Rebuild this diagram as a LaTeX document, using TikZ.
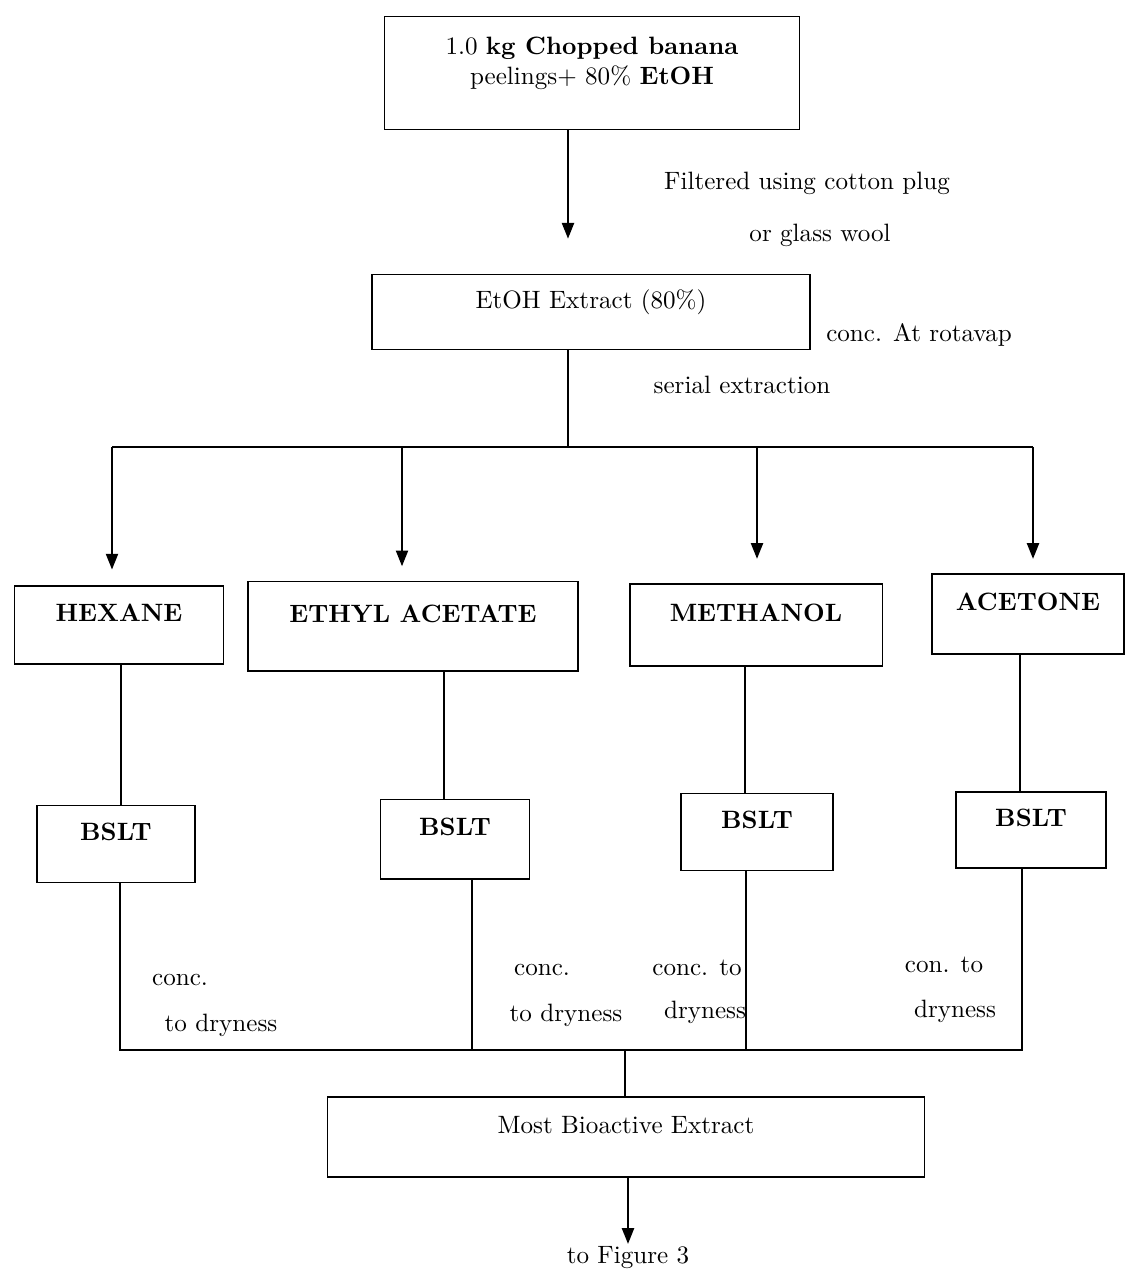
\documentclass[tikz,border=0pt]{standalone}
\usepackage{tikz}
\usetikzlibrary{arrows.meta,positioning,calc}

\begin{document}
\begin{tikzpicture}[
    x=0.014cm, y=-0.014cm,
    box/.style={rectangle, draw, line width=0.7pt, align=center, inner sep=2pt, text depth=0.35cm},
    solvent/.style={box, font=\bfseries},
    note/.style={font=\normalsize, inner sep=1pt},
    arrow/.style={-{Triangle[length=2.2mm,width=1.7mm]}, line width=0.7pt},
    link/.style={line width=0.7pt}
]
    \useasboundingbox (0,0) rectangle (1125,1272);

    % Main boxes
    \node[box, minimum width=5.81cm, minimum height=1.58cm] (banana) at (592,73) {
        1.0 \textbf{kg Chopped banana}\\
        peelings+ 80\% \textbf{EtOH}
    };
    \node[box, minimum width=6.13cm, minimum height=1.05cm] (etoh) at (591,312) {EtOH Extract (80\%)};

    % Solvent boxes
    \node[solvent, minimum width=2.93cm, minimum height=1.09cm] (hexane) at (119,625) {HEXANE};
    \node[solvent, minimum width=4.63cm, minimum height=1.25cm] (ethyl) at (413,626) {ETHYL ACETATE};
    \node[solvent, minimum width=3.54cm, minimum height=1.15cm] (methanol) at (756,625) {METHANOL};
    \node[solvent, minimum width=2.69cm, minimum height=1.12cm] (acetone) at (1028,614) {ACETONE};

    % BSLT boxes
    \node[solvent, minimum width=2.21cm, minimum height=1.08cm] (bsltA) at (116,844) {BSLT};
    \node[solvent, minimum width=2.09cm, minimum height=1.11cm] (bsltB) at (455,839) {BSLT};
    \node[solvent, minimum width=2.13cm, minimum height=1.08cm] (bsltC) at (757,832) {BSLT};
    \node[solvent, minimum width=2.11cm, minimum height=1.06cm] (bsltD) at (1031,830) {BSLT};

    \node[box, minimum width=8.36cm, minimum height=1.13cm] (bioactive) at (626,1137) {Most Bioactive Extract};
    \node[note] (figure) at (628,1258) {to Figure 3};

    % Helper coordinates
    \coordinate (split) at (568,447);
    \coordinate (busA) at (112,447);
    \coordinate (busB) at (402,447);
    \coordinate (busC) at (757,447);
    \coordinate (busD) at (1033,447);
    \coordinate (merge) at (625,1050);
    \coordinate (upA) at (121,0);
    \coordinate (upB) at (444,0);
    \coordinate (upC) at (745,0);
    \coordinate (upD) at (1020,0);
    \coordinate (dnA) at (120,0);
    \coordinate (dnB) at (472,0);
    \coordinate (dnC) at (746,0);
    \coordinate (dnD) at (1022,0);

    % Extraction
    \draw[arrow, shorten >=0.49cm] (banana.south -| split) -- (etoh.north -| split);
    \draw[link] (etoh.south -| split) -- (split);
    \draw[link] (busA) -- (busD);
    \draw[arrow, shorten >=0.22cm] (busA) -- (hexane.north -| busA);
    \draw[arrow, shorten >=0.2cm] (busB) -- (ethyl.north -| busB);
    \draw[arrow, shorten >=0.34cm] (busC) -- (methanol.north -| busC);
    \draw[arrow, shorten >=0.2cm] (busD) -- (acetone.north -| busD);

    % Solvents to BSLT
    \draw[link] (hexane.south -| upA) -- (bsltA.north -| upA);
    \draw[link] (ethyl.south -| upB) -- (bsltB.north -| upB);
    \draw[link] (methanol.south -| upC) -- (bsltC.north -| upC);
    \draw[link] (acetone.south -| upD) -- (bsltD.north -| upD);

    % BSLT to most bioactive
    \draw[link] (bsltA.south -| dnA) -- (dnA |- merge) -- (dnD |- merge) -- (bsltD.south -| dnD);
    \draw[link] (bsltB.south -| dnB) -- (dnB |- merge);
    \draw[link] (bsltC.south -| dnC) -- (dnC |- merge);
    \draw[link] (merge) -- (bioactive.north -| merge);
    \draw[arrow] (bioactive.south -| figure) -- (figure.north);

    % Step labels
    \node[note] (filterA) at (807,183) {Filtered using cotton plug};
    \node[note] (filterB) at (820,235) {or glass wool};
    \node[note] (rotavap) at (919,335) {conc. At rotavap};
    \node[note] (serial) at (742,385) {serial extraction};

    \node[note] (dryA1) at (180,980) {conc.};
    \node[note] (dryA2) at (221,1025) {to dryness};
    \node[note] (dryB1) at (542,970) {conc.};
    \node[note] (dryB2) at (566,1015) {to dryness};
    \node[note] (dryC1) at (697,968) {conc. to};
    \node[note] (dryC2) at (705,1012) {dryness};
    \node[note] (dryD1) at (944,965) {con. to};
    \node[note] (dryD2) at (955,1011) {dryness};
\end{tikzpicture}
\end{document}
